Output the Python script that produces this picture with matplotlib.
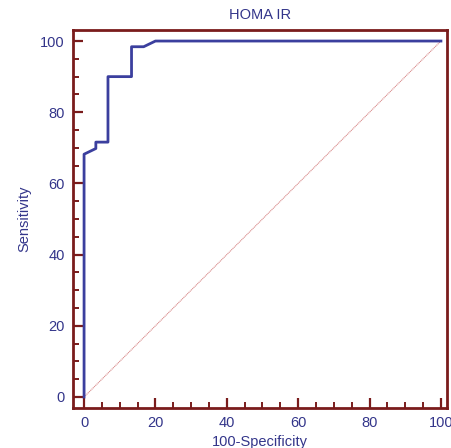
import numpy as np
import matplotlib
matplotlib.use("Agg")
import matplotlib.pyplot as plt
from matplotlib.ticker import MultipleLocator

# ROC curve points (100-Specificity, Sensitivity)
fpr = [0, 0, 3.3, 3.3, 6.7, 6.7, 13.3, 13.3, 16.7, 20, 100]
sens = [0, 68.2, 69.8, 71.6, 71.6, 90.0, 90.0, 98.4, 98.4, 100, 100]

title = "HOMA IR"
xlabel = "100-Specificity"
ylabel = "Sensitivity"

textc = "#33358a"
framec = "#7a1c1c"

plt.rcParams['font.family'] = ['Liberation Sans', 'DejaVu Sans']

fig = plt.figure(figsize=(4.52, 4.48), dpi=100)
ax = fig.add_axes([73/452, 1-408/448, (447-73)/452, (408-30)/448])

ax.plot([0, 100], [0, 100], color="#d88a8a", lw=0.8, ls=(0, (1, 0.6)))
ax.plot(fpr, sens, color="#3b3f9e", lw=2)

ax.set_xlim(-3.1, 101.7)
ax.set_ylim(-3.1, 103.1)
ax.xaxis.set_major_locator(MultipleLocator(20))
ax.xaxis.set_minor_locator(MultipleLocator(5))
ax.yaxis.set_major_locator(MultipleLocator(20))
ax.yaxis.set_minor_locator(MultipleLocator(5))

for s in ax.spines.values():
    s.set_color(framec)
    s.set_linewidth(2)
ax.tick_params(which="major", direction="in", length=7, width=1.6, color=framec,
               labelcolor=textc, labelsize=10.5, pad=6)
ax.tick_params(which="minor", direction="in", length=4, width=1.4, color=framec)

ax.set_title(title, color=textc, fontsize=10.5, pad=8)
ax.set_xlabel(xlabel, color=textc, fontsize=10.5, labelpad=3)
ax.set_ylabel(ylabel, color=textc, fontsize=10.5, labelpad=6)

fig.savefig("out.png", dpi=100)
